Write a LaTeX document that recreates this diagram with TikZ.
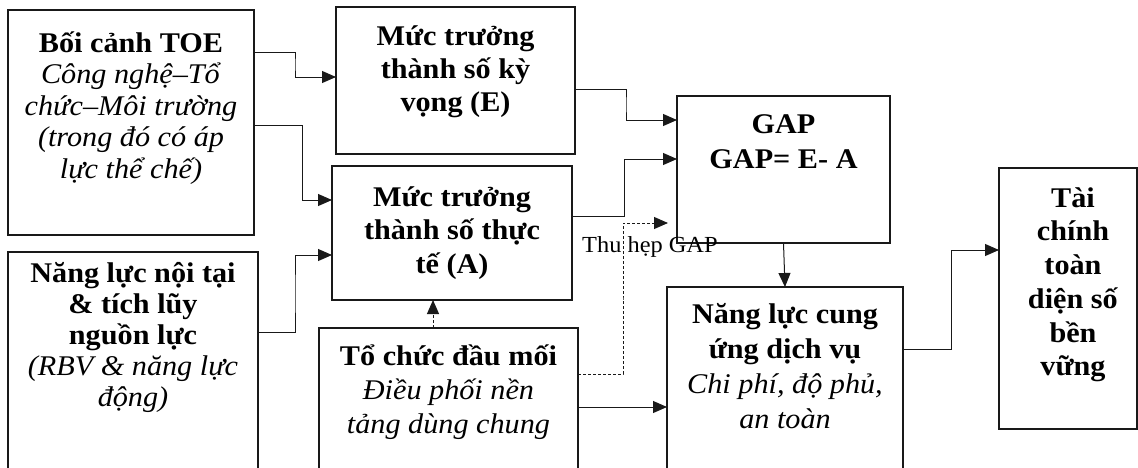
\documentclass[tikz,border=0pt]{standalone}
\usepackage{fontspec}
\setmainfont{Liberation Serif}[FakeStretch=1.06]
\usetikzlibrary{arrows.meta,calc}
\newcommand\mystrut{\rule{0pt}{27.5pt}}
\begin{document}
\begin{tikzpicture}[x=1pt,y=-1pt,
  box/.style={draw=black!90, line width=1.1pt, rectangle, inner sep=0pt, outer sep=0pt, anchor=north west},
  txt/.style={font=\fontsize{28.5}{#1}\selectfont, align=center, inner sep=0pt, anchor=north},
  arr/.style={draw=black!90, line width=1pt, -{Triangle[length=14pt,width=12pt]}},
  darr/.style={arr, dash pattern=on 3pt off 2pt},
  lbl/.style={font=\fontsize{23}{25}\selectfont, inner sep=0pt, anchor=base west}
]
\clip (0,0) rectangle (1138,467);
% boxes
\node[box, minimum width=246pt, minimum height=225pt] (toe) at (8,10) {};
\node[box, minimum width=250pt, minimum height=240pt] (nlnt) at (8,252) {};
\node[box, minimum width=239pt, minimum height=147pt] (e) at (336,7) {};
\node[box, minimum width=240pt, minimum height=134pt] (a) at (332,166) {};
\node[box, minimum width=259pt, minimum height=160pt] (tc) at (319,328) {};
\node[box, minimum width=213pt, minimum height=147pt] (gap) at (677,96) {};
\node[box, minimum width=236pt, minimum height=200pt] (nlcu) at (667,287) {};
\node[box, minimum width=138pt, minimum height=261pt] (tcs) at (999,168) {};
% texts
\node[txt=31.5] (toeT) at ([yshift=-14.5pt]toe.north) {\mystrut\textbf{Bối cảnh TOE}\\\textit{Công nghệ–Tổ}\\\textit{chức–Môi trường}\\\textit{(trong đó có áp}\\\textit{lực thể chế)}};
\node[txt=31] (nlntT) at ([yshift=-2.5pt]nlnt.north) {\mystrut\textbf{Năng lực nội tại}\\\textbf{\& tích lũy}\\\textbf{nguồn lực}\\\textit{(RBV \& năng lực}\\\textit{động)}};
\node[txt=33] (eT) at ([yshift=-10.5pt]e.north) {\mystrut\textbf{Mức trưởng}\\\textbf{thành số kỳ}\\\textbf{vọng (E)}};
\node[txt=33.5] (aT) at ([yshift=-12.5pt]a.north) {\mystrut\textbf{Mức trưởng}\\\textbf{thành số thực}\\\textbf{tế (A)}};
\node[txt=35] (gapT) at ([yshift=-9.5pt]gap.north) {\mystrut\textbf{GAP}\\\textbf{GAP= E- A}};
\node[txt=34] (tcT) at ([yshift=-9.5pt]tc.north) {\mystrut\textbf{Tổ chức đầu mối}\\\textit{Điều phối nền}\\\textit{tảng dùng chung}};
\node[txt=35] (nlcuT) at ([yshift=-8.5pt]nlcu.north) {\mystrut\textbf{Năng lực cung}\\\textbf{ứng dịch vụ}\\\textit{Chi phí, độ phủ,}\\\textit{an toàn}};
\node[txt=33.7] (tcsT) at ([xshift=5pt,yshift=-11.5pt]tcs.north) {\mystrut\textbf{Tài}\\\textbf{chính}\\\textbf{toàn}\\\textbf{diện số}\\\textbf{bền}\\\textbf{vững}};
\node[lbl] (thu) at (582,252) {Thu hẹp GAP};
% connector end points
\coordinate (s1) at ([yshift=-42pt]toe.north east);
\coordinate (t1) at ([yshift=3.5pt]e.west);
\coordinate (s2) at ([yshift=-115pt]toe.north east);
\coordinate (m2) at ([xshift=48pt]s2);
\coordinate (t2) at ([yshift=33pt]a.west);
\coordinate (s3) at ([yshift=-80pt]nlnt.north east);
\coordinate (t3) at ([yshift=-22pt]a.west);
\coordinate (s4) at ([yshift=-8.5pt]e.east);
\coordinate (t4) at ([yshift=49.5pt]gap.west);
\coordinate (s5) at ([yshift=17pt]a.east);
\coordinate (t5) at ([yshift=10.5pt]gap.west);
\coordinate (s6) at ([yshift=-46pt]tc.north east);
\coordinate (t6) at ([xshift=-9pt,yshift=-53.5pt]gap.west);
\coordinate (s7) at ([xshift=-15.5pt]tc.north);
\coordinate (s8) at ([yshift=-79pt]tc.north east);
\coordinate (s10) at ([yshift=-62pt]nlcu.north east);
\coordinate (t10) at ([yshift=48.5pt]tcs.west);
% connectors
\draw[arr] (s1) -| ($(s1)!0.5!(t1)$) |- (t1);
\draw[arr] (s2) -| (m2 |- t2) -- (t2);
\draw[arr] (s3) -| ($(s3)!0.5!(t3)$) |- (t3);
\draw[arr] (s4) -| ($(s4)!0.5!(t4)$) |- (t4);
\draw[arr] (s5) -| ($(s5)!0.5!(t5)$) |- (t5);
\draw[darr] (s6) -| ($(s6)!0.5!(t6)$) |- (t6);
\draw[darr] (s7) -- (s7 |- a.south);
\draw[arr] (s8) -- (s8 -| nlcu.west);
\draw[arr] (gap.south) -- (nlcu.north);
\draw[arr] (s10) -| ($(s10)!0.5!(t10)$) |- (t10);
\end{tikzpicture}
\end{document}
